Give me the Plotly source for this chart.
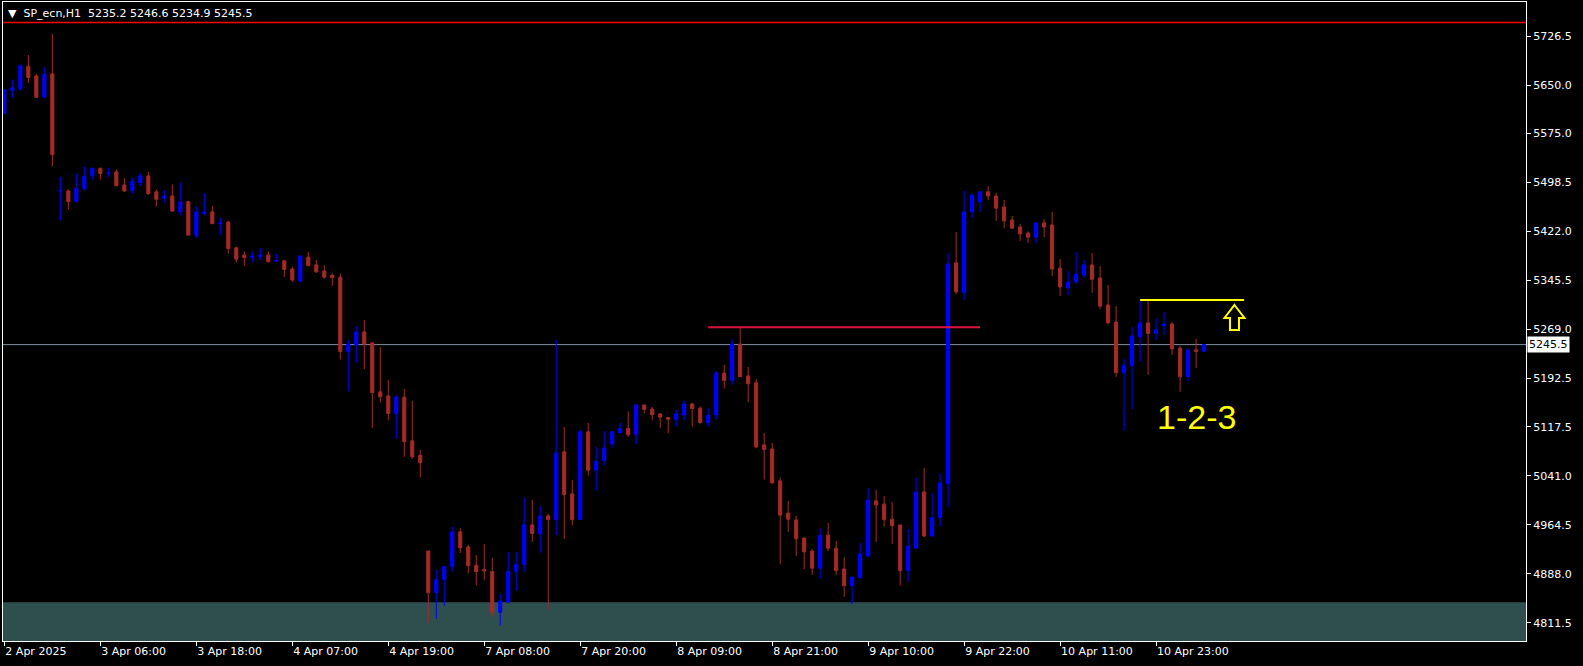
import plotly.graph_objects as go

# ---- data (H1 bars, SP_ecn) ----
bar_index = list(range(151))
opens = [5605.9,5641.5,5644.7,5679.7,5664.4,5631.3,5667.6,5485.0,5485.0,5468.4,
         5488.8,5509.2,5520.6,5512.3,5514.9,5494.5,5485.6,5498.3,5508.5,5483.7,
         5473.5,5477.3,5452.5,5468.4,5416.2,5450.0,5452.5,5434.1,5436.6,5396.5,
         5385.1,5381.2,5382.5,5385.1,5375.5,5376.1,5363.4,5345.0,5381.9,5369.8,
         5360.2,5353.9,5350.7,5234.9,5245.0,5265.4,5248.2,5171.9,5165.5,5138.1,
         5163.6,5095.5,5073.2,4923.7,4858.7,4879.1,4899.5,4953.6,4930.0,4901.4,
         4895.0,4891.8,4828.2,4844.1,4891.8,4902.7,4964.4,4951.0,4978.4,4972.7,
         5078.3,5012.8,4972.7,5109.5,5049.7,5064.9,5091.0,5108.2,5114.6,5105.0,
         5151.5,5145.1,5137.5,5131.8,5128.6,5135.6,5152.8,5146.4,5124.1,5135.6,
         5201.1,5189.7,5246.3,5196.7,5185.9,5089.1,5082.8,5033.1,4982.8,4972.1,
         4944.0,4923.7,4896.9,4948.5,4928.1,4895.7,4869.6,4882.3,4916.0,5001.9,
         4996.8,4973.3,4964.4,4893.1,4928.1,5015.9,4947.2,4975.8,5028.7,5373.0,
         5326.5,5452.5,5467.8,5483.7,5477.3,5460.2,5439.8,5428.9,5419.4,5413.0,
         5435.3,5432.1,5364.7,5334.1,5343.0,5353.9,5369.8,5349.4,5307.4,5280.7,
         5201.8,5212.6,5257.8,5279.4,5262.9,5275.0,5277.5,5240.0,5195.4,5237.4,
         5235.2]
highs = [5644.0,5658.7,5682.9,5696.9,5667.6,5677.8,5730.0,5507.2,5488.1,5512.3,
         5522.5,5520.6,5520.6,5521.2,5518.7,5505.3,5505.3,5513.0,5514.9,5487.5,
         5486.2,5495.1,5497.7,5469.7,5460.8,5481.8,5461.4,5443.0,5438.5,5398.4,
         5390.8,5390.8,5396.5,5390.8,5387.0,5377.4,5367.2,5383.8,5390.1,5377.4,
         5369.1,5356.4,5356.4,5252.7,5274.3,5283.9,5249.5,5241.9,5190.3,5166.8,
         5176.3,5157.9,5081.5,4923.7,4895.0,4899.5,4961.2,4959.3,4933.2,4917.3,
         4934.5,4912.8,4856.8,4922.4,4922.4,5006.4,5003.2,4993.7,4981.6,5252.7,
         5117.1,5034.4,5112.7,5123.5,5085.9,5110.8,5109.5,5123.5,5141.3,5152.8,
         5151.5,5148.3,5138.7,5132.4,5143.8,5157.9,5154.7,5149.6,5146.4,5204.3,
         5213.9,5253.3,5272.4,5210.7,5191.6,5107.6,5092.3,5038.2,5001.9,4978.4,
         4944.0,4926.2,4959.3,4967.6,4939.6,4914.1,4884.2,4936.4,5021.7,5019.1,
         5009.6,5000.0,4964.4,4958.0,5038.2,5052.9,5014.0,5044.6,5388.2,5421.3,
         5485.0,5481.1,5483.7,5492.6,5481.8,5471.0,5446.1,5433.4,5422.0,5435.3,
         5441.0,5452.5,5378.7,5360.2,5390.1,5377.4,5388.2,5367.9,5338.6,5305.5,
         5222.8,5273.1,5315.0,5315.0,5287.0,5296.6,5280.7,5243.1,5240.0,5254.6,
         5246.6]
lows = [5604.6,5630.1,5640.9,5653.6,5630.1,5631.3,5523.2,5439.1,5456.3,5468.4,
        5485.6,5502.8,5502.8,5507.2,5493.2,5483.7,5481.1,5493.2,5478.6,5460.8,
        5465.9,5452.5,5447.4,5416.2,5411.8,5446.8,5434.1,5416.2,5387.6,5373.6,
        5368.5,5373.6,5377.4,5373.6,5375.5,5350.7,5343.0,5341.8,5368.5,5357.7,
        5348.1,5337.3,5222.1,5172.5,5217.0,5206.9,5115.9,5155.3,5127.3,5098.7,
        5070.7,5067.5,5038.2,4812.0,4818.0,4838.4,4891.8,4920.5,4888.7,4869.6,
        4877.8,4821.8,4807.8,4842.2,4861.3,4891.8,4937.7,4921.1,4833.3,4948.5,
        4942.8,4963.1,4972.7,5041.4,5017.9,5057.3,5085.3,5106.9,5101.9,5091.0,
        5138.1,5127.3,5115.9,5106.9,5117.8,5127.3,5117.8,5122.2,5117.8,5128.6,
        5177.0,5183.3,5195.4,5155.9,5084.0,5035.0,5028.7,4903.3,4953.6,4916.0,
        4895.0,4886.8,4880.4,4923.7,4886.8,4852.4,4840.9,4880.4,4914.1,4937.7,
        4961.8,4934.5,4869.6,4875.9,4928.1,4945.3,4945.9,4961.8,4992.4,5324.6,
        5315.0,5443.6,5452.5,5471.0,5438.5,5427.0,5427.0,5407.3,5404.1,5404.1,
        5413.0,5352.6,5321.4,5322.7,5339.9,5349.4,5326.5,5301.0,5277.5,5195.4,
        5111.4,5144.5,5218.9,5198.6,5252.7,5261.0,5229.8,5171.9,5189.0,5208.8,
        5234.9]
closes = [5642.8,5646.0,5679.7,5661.9,5631.3,5667.0,5541.6,5485.6,5468.4,5488.8,
          5507.9,5520.6,5512.3,5512.8,5493.2,5485.0,5500.2,5508.5,5481.1,5472.2,
          5477.3,5453.8,5467.8,5416.2,5452.5,5452.5,5434.1,5436.0,5395.2,5378.7,
          5381.2,5383.1,5385.1,5374.9,5376.8,5362.8,5346.2,5383.8,5368.5,5359.0,
          5350.7,5350.0,5234.9,5246.3,5265.4,5246.3,5170.6,5164.2,5138.1,5163.6,
          5094.2,5070.7,5061.7,4858.7,4879.1,4899.5,4953.6,4928.8,4900.8,4891.8,
          4892.5,4828.2,4846.0,4891.8,4902.7,4964.4,4951.0,4978.4,4972.7,5076.4,
          5011.5,4972.7,5109.5,5049.7,5063.7,5084.0,5109.5,5114.6,5105.0,5151.5,
          5144.5,5136.2,5132.4,5129.2,5137.5,5152.8,5145.8,5124.1,5135.0,5201.1,
          5189.7,5246.3,5195.4,5184.6,5085.9,5082.1,5029.9,4979.7,4973.3,4942.8,
          4922.4,4896.9,4947.8,4928.1,4893.1,4869.6,4882.9,4919.2,5003.2,4995.6,
          4972.7,4963.1,4893.1,4931.3,5015.9,4947.2,4975.8,5029.9,5371.0,5327.8,
          5452.5,5478.6,5483.7,5477.3,5458.2,5438.5,5427.0,5418.1,5413.0,5435.3,
          5428.9,5363.4,5335.4,5343.0,5355.1,5369.8,5347.5,5305.5,5279.4,5201.8,
          5213.2,5259.0,5279.4,5262.9,5268.6,5277.5,5238.7,5195.4,5237.4,5235.2,
          5245.5]

time_tick_index = [0, 12, 24, 36, 48, 60, 72, 84, 96, 108, 120, 132, 144]
time_tick_labels = ["2 Apr 2025", "3 Apr 06:00", "3 Apr 18:00", "4 Apr 07:00",
                    "4 Apr 19:00", "7 Apr 08:00", "7 Apr 20:00", "8 Apr 09:00",
                    "8 Apr 21:00", "9 Apr 10:00", "9 Apr 22:00", "10 Apr 11:00",
                    "10 Apr 23:00"]
price_ticks = [5726.5, 5650.0, 5575.0, 5498.5, 5422.0, 5345.5, 5269.0,
               5192.5, 5117.5, 5041.0, 4964.5, 4888.0, 4811.5]

symbol = "SP_ecn,H1"
bid_price = 5245.5
top_level = 5747.7
support_zone_top = 4844.0
crimson_level = 5272.5
crimson_from, crimson_to = 88, 122
yellow_level = 5315.0
yellow_from, yellow_to = 142, 155
arrow_pos = (153.8, 5287.0)
pattern_label = "1-2-3"
pattern_pos = (149.0, 5132.0)

FONT = "DejaVu Sans"

fig = go.Figure()
fig.add_trace(go.Candlestick(
    x=bar_index, open=opens, high=highs, low=lows, close=closes,
    increasing=dict(line=dict(color="#0000FF", width=1), fillcolor="#0000FF"),
    decreasing=dict(line=dict(color="#A52A2A", width=1), fillcolor="#A52A2A"),
    whiskerwidth=0, showlegend=False, hoverinfo="skip",
))

shapes = [
    dict(type="rect", xref="paper", x0=0, x1=1, yref="y", y0=4700, y1=support_zone_top,
         fillcolor="#2F4F4F", line=dict(width=0), layer="below"),
    dict(type="line", xref="paper", x0=0, x1=1, yref="y", y0=top_level, y1=top_level,
         line=dict(color="#FF0000", width=1.5)),
    dict(type="line", xref="paper", x0=0, x1=1, yref="y", y0=bid_price, y1=bid_price,
         line=dict(color="#8090A0", width=1), layer="below"),
    dict(type="line", xref="x", x0=crimson_from, x1=crimson_to, yref="y",
         y0=crimson_level, y1=crimson_level, line=dict(color="#DC143C", width=2)),
    dict(type="line", xref="x", x0=yellow_from, x1=yellow_to, yref="y",
         y0=yellow_level, y1=yellow_level, line=dict(color="#FFFF00", width=2)),
    dict(type="path", xref="x", yref="y", xsizemode="pixel", ysizemode="pixel",
         xanchor=arrow_pos[0], yanchor=arrow_pos[1],
         path="M 0 13 L 10 0 L 4.5 0 L 4.5 -12 L -4.5 -12 L -4.5 0 L -10 0 Z",
         line=dict(color="#FFFF00", width=2), fillcolor="rgba(0,0,0,0)"),
]

annotations = [
    dict(xref="paper", yref="paper", x=0, y=1, xanchor="left", yanchor="top",
         xshift=3, yshift=-3, showarrow=False,
         text="▼&nbsp;&nbsp;" + symbol + "&nbsp;&nbsp;" + " ".join(
             f"{v:.1f}" for v in (opens[-1], highs[-1], lows[-1], closes[-1])),
         font=dict(family=FONT, size=11, color="#FFFFFF")),
    dict(xref="paper", yref="y", x=1, y=bid_price, xanchor="left", yanchor="middle",
         xshift=1, showarrow=False, text=f"{bid_price:.1f}", bgcolor="#FFFFFF",
         borderpad=1, font=dict(family=FONT, size=11, color="#000000")),
    dict(xref="x", yref="y", x=pattern_pos[0], y=pattern_pos[1], showarrow=False,
         text=pattern_label,
         font=dict(family="Liberation Sans Narrow, Liberation Sans", size=34, color="#FFFF00")),
]

fig.update_layout(
    width=1583, height=666,
    margin=dict(l=3, r=57, t=2, b=25),
    paper_bgcolor="#000000", plot_bgcolor="#000000",
    shapes=shapes, annotations=annotations,
    boxgap=0.45,
    xaxis=dict(range=[-0.17, 190.25], rangeslider=dict(visible=False),
               tickmode="array", tickvals=time_tick_index, ticktext=time_tick_labels,
               ticks="outside", ticklen=4, tickcolor="#FFFFFF",
               ticklabelposition="outside right",
               tickfont=dict(family=FONT, size=11, color="#FFFFFF"),
               showgrid=False, zeroline=False, showline=True, linecolor="#FFFFFF",
               linewidth=1, mirror=True, fixedrange=True),
    yaxis=dict(range=[4783.4, 5779.7], side="right",
               tickmode="array", tickvals=price_ticks,
               ticktext=[f"{v:.1f}" for v in price_ticks],
               ticks="outside", ticklen=4, tickcolor="#FFFFFF",
               tickfont=dict(family=FONT, size=11, color="#FFFFFF"),
               showgrid=False, zeroline=False, showline=True, linecolor="#FFFFFF",
               linewidth=1, mirror=True, fixedrange=True),
)

fig.write_html(
    "out.html",
    config={"displayModeBar": False, "staticPlot": True},
    post_script="document.body.style.margin='0';document.body.style.overflow='hidden';",
)
